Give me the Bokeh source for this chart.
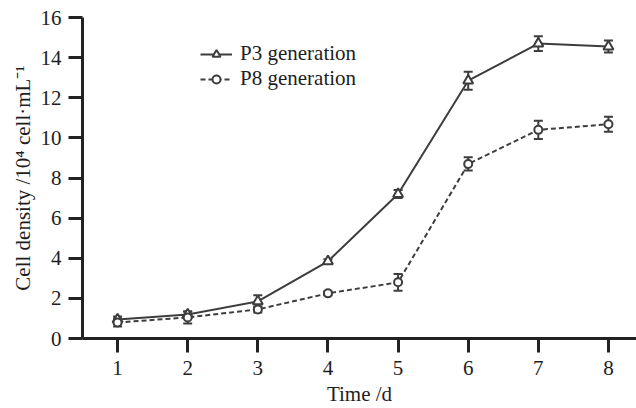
from bokeh.plotting import figure
from bokeh.models import (ColumnDataSource, Whisker, TeeHead, Legend, LegendItem,
                          FixedTicker, Range1d)
from bokeh.embed import file_html
from bokeh.resources import INLINE

days = [1, 2, 3, 4, 5, 6, 7, 8]
p3_mean = [0.95, 1.2, 1.85, 3.85, 7.2, 12.85, 14.7, 14.55]
p3_err = [0.15, 0.15, 0.3, 0.1, 0.2, 0.45, 0.37, 0.3]
p8_mean = [0.8, 1.05, 1.45, 2.25, 2.8, 8.7, 10.4, 10.68]
p8_err = [0.2, 0.3, 0.15, 0.1, 0.42, 0.33, 0.45, 0.37]
y_ticks = [0, 2, 4, 6, 8, 10, 12, 14, 16]
series_names = ["P3 generation", "P8 generation"]
x_title = "Time /d"
y_title = "Cell density /10\u2074 cell\u00b7mL\u207b\u00b9"

COL = "#3d3d3d"
TXT = "#1e1e1e"
FONT = "Liberation Serif"
FS = 21

W, H = 636, 408
LEFT, TOP, BOTTOM = 82, 17, 70
X0, X1 = 0.5, 8.4
Y0, Y1 = 0, 16

p = figure(width=W, height=H, output_backend="svg", toolbar_location=None,
           x_range=Range1d(X0, X1), y_range=Range1d(Y0, Y1),
           min_border_left=LEFT, min_border_right=0, min_border_top=TOP,
           min_border_bottom=BOTTOM)
p.outline_line_color = None
p.xgrid.visible = False
p.ygrid.visible = False

def src(m, e):
    return ColumnDataSource(dict(x=days, y=m,
                                 lo=[a - b for a, b in zip(m, e)],
                                 hi=[a + b for a, b in zip(m, e)]))

s3 = src(p3_mean, p3_err)
s8 = src(p8_mean, p8_err)

for s in (s3, s8):
    p.add_layout(Whisker(source=s, base="x", upper="hi", lower="lo", line_color=COL,
                         line_width=2,
                         upper_head=TeeHead(size=9, line_color=COL, line_width=2),
                         lower_head=TeeHead(size=9, line_color=COL, line_width=2)))

l3 = p.line("x", "y", source=s3, line_color=COL, line_width=2)
m3 = p.scatter("x", "y", source=s3, marker="triangle", size=10, fill_color="white",
               line_color=COL, line_width=2)
l8 = p.line("x", "y", source=s8, line_color=COL, line_width=2, line_dash="5 3")
m8 = p.scatter("x", "y", source=s8, marker="circle", size=8, fill_color="white",
               line_color=COL, line_width=2)

legend = Legend(items=[LegendItem(label=series_names[0], renderers=[l3, m3]),
                       LegendItem(label=series_names[1], renderers=[l8, m8])],
                location=(118, 247), border_line_color=None, background_fill_alpha=0,
                label_text_font=FONT, label_text_font_size=f"{FS}px", label_text_color=TXT,
                glyph_width=32, glyph_height=20, label_height=20, spacing=0, padding=0,
                label_standoff=8, margin=0)
p.add_layout(legend)

for ax in (p.xaxis[0], p.yaxis[0]):
    ax.axis_line_width = 3
    ax.axis_line_color = "#222222"
    ax.major_tick_line_width = 3
    ax.major_tick_line_color = "#222222"
    ax.major_tick_out = 14
    ax.major_tick_in = 0
    ax.minor_tick_line_color = None
    ax.major_label_text_font = FONT
    ax.major_label_text_font_size = f"{FS}px"
    ax.major_label_text_color = TXT
    ax.axis_label_text_font = FONT
    ax.axis_label_text_font_style = "normal"
    ax.axis_label_text_color = TXT

p.xaxis.ticker = FixedTicker(ticks=days)
p.yaxis.ticker = FixedTicker(ticks=y_ticks)
p.xaxis.axis_label = x_title
p.yaxis.axis_label = y_title
p.xaxis.axis_label_text_font_size = f"{FS}px"
p.yaxis.axis_label_text_font_size = f"{FS}px"
p.xaxis.major_label_standoff = 8
p.xaxis.axis_label_standoff = 4
p.yaxis.major_label_standoff = 7
p.yaxis.axis_label_standoff = 3

open("out.html", "w").write(file_html(p, INLINE))
